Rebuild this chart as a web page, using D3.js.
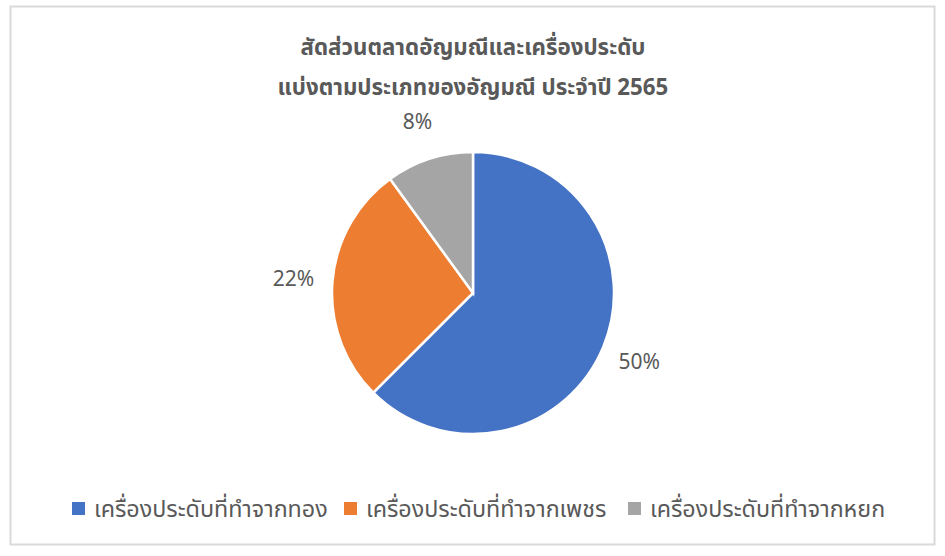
<!DOCTYPE html>
<html><head><meta charset="utf-8">
<script src="https://cdn.jsdelivr.net/npm/d3@7"></script>
<style>
html,body{margin:0;padding:0;background:#fff;}
text{font-family:"Noto Sans Thai","Leelawadee UI","Noto Sans",sans-serif;fill:#595959;}
</style></head>
<body><svg id="c" width="945" height="556"></svg>
<script>
const titleLines = ["สัดส่วนตลาดอัญมณีและเครื่องประดับ", "แบ่งตามประเภทของอัญมณี ประจำปี 2565"];
const categories = ["เครื่องประดับที่ทำจากทอง", "เครื่องประดับที่ทำจากเพชร", "เครื่องประดับที่ทำจากหยก"];
const values = [50, 22, 8];
const colors = ["#4472C4", "#ED7D31", "#A5A5A5"];

const svg = d3.select("#c");
svg.append("rect").attr("x",10.5).attr("y",6.5).attr("width",924).attr("height",538)
  .attr("fill","#fff").attr("stroke","#d9d9d9").attr("stroke-width",2);

svg.selectAll("text.title").data(titleLines).enter().append("text")
  .attr("class","title").attr("x",473).attr("y",(d,i)=>55+i*40)
  .attr("text-anchor","middle").style("font-size","22.3px").style("font-weight","bold").text(d=>d);

const cx=473, cy=293, r=141;
const data = categories.map((c,i)=>({c, v:values[i], col:colors[i]}));
const pie = d3.pie().value(d=>d.v).sort(null);
const arcs = pie(data);
const arc = d3.arc().innerRadius(0).outerRadius(r);
const labelArc = d3.arc().innerRadius(180).outerRadius(180);
const g = svg.append("g").attr("transform",`translate(${cx},${cy})`);
g.selectAll("path").data(arcs).enter().append("path")
  .attr("d",arc).attr("fill",d=>d.data.col).attr("stroke","#fff").attr("stroke-width",2.5);
g.selectAll("text").data(arcs).enter().append("text")
  .attr("transform",d=>`translate(${labelArc.centroid(d)})`)
  .attr("text-anchor","middle").attr("dy","0.35em").style("font-size","21px")
  .text(d=>d.data.v+"%");

const legX = [72, 344, 628];
const lg = svg.selectAll("g.leg").data(data).enter().append("g").attr("class","leg")
  .attr("transform",(d,i)=>`translate(${legX[i]},517)`);
lg.append("rect").attr("x",0).attr("y",-15).attr("width",13).attr("height",13).attr("fill",d=>d.col);
lg.append("text").attr("x",22).attr("y",0).style("font-size","23.3px").text(d=>d.c);
</script></body></html>
